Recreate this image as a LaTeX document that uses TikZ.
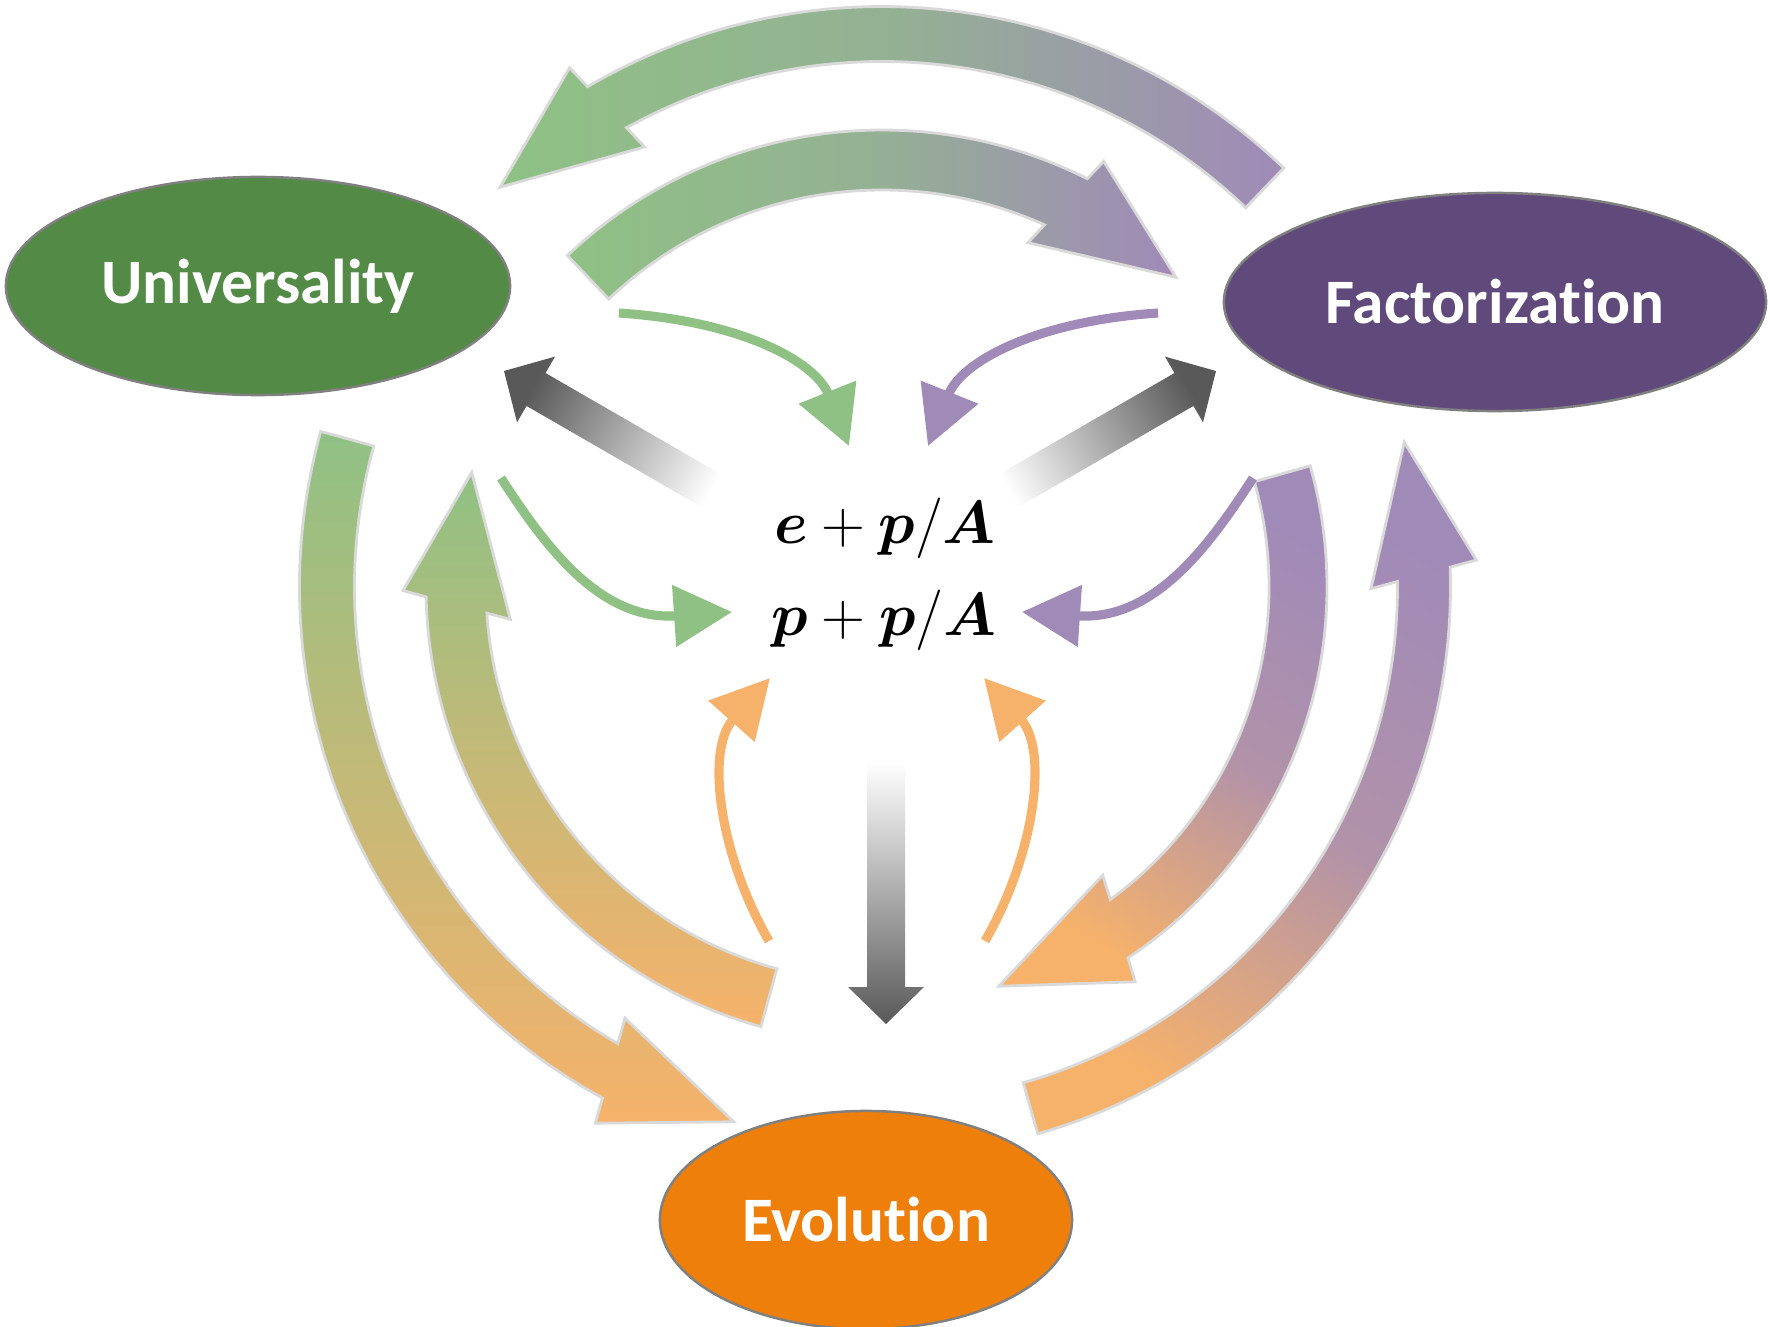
\documentclass[tikz,border=0pt]{standalone}
\usepackage{amsmath}
\usepackage{amssymb}
\usepackage{fontspec}
\usepackage{tikz}
\usetikzlibrary{arrows.meta}
\usetikzlibrary{shapes.geometric}

\newfontfamily\labelfont{Carlito}[Ligatures=NoCommon]

\definecolor{univgreen}{HTML}{538A45}
\definecolor{factpurple}{HTML}{604A7B}
\definecolor{evolorange}{HTML}{EF7F0B}
\definecolor{lightgreen}{HTML}{8FC184}
\definecolor{lightpurple}{HTML}{A08AB8}
\definecolor{lightorange}{HTML}{F6B26B}
\definecolor{rimgray}{HTML}{D9D9D9}
\definecolor{shaftgray}{HTML}{595959}

\begin{document}
\begin{tikzpicture}[x=0.01cm, y=0.01cm,
        bubble/.style={ellipse, draw=gray, line width=0.7pt, text=white, inner sep=0pt,
            minimum height=2.18cm, font=\labelfont\bfseries\fontsize{18}{21}\selectfont},
        band/.style={draw=rimgray, line width=0.8pt},
        slim/.style={line width=2.6pt, -{Triangle[length=16.5pt, width=17pt]}},
        formula/.style={anchor=base, font=\fontsize{17.5}{21}\selectfont}]
        \def\hw{53}
        \def\hl{134}
        \def\bigarc#1#2#3#4#5{%
            \pgfmathsetmacro\sgn{sign(#3-#4)}
            \pgfmathsetmacro\barbout{#4+\sgn*deg(\hl/(#1+\hw))}
            \pgfmathsetmacro\barbin{#4+\sgn*deg(\hl/(#1-\hw))}
            \pgfmathsetmacro\neckout{#4+\sgn*deg(\hl/(#1+#2))}
            \pgfmathsetmacro\neckin{#4+\sgn*deg(\hl/(#1-#2))}
            \draw[band, #5] ({#3}:{#1+#2}) arc[start angle=#3, end angle=\neckout, radius={#1+#2}]
                -- (\barbout:{#1+\hw}) -- ({#4}:{#1}) -- (\barbin:{#1-\hw})
                -- (\neckin:{#1-#2}) arc[start angle=\neckin, end angle=#3, radius={#1-#2}] -- cycle;}
        \def\greyarrow{(0,0) -- (-37,38) -- (-37,19) -- (-262,19) -- (-262,-19) -- (-37,-19) -- (-37,-38) -- cycle}

        \useasboundingbox (0,0) rectangle (1769,1326);

        \coordinate (hub) at (882,739);
        \coordinate (tipU) at (504,955);
        \coordinate (tipF) at (1216,955);
        \coordinate (tipE) at (886,302);

        % big circular arrows round the hub
        \begin{scope}[shift={(hub)}]
            \bigarc{553}{27.5}{46.2}{133.7}{left color=lightgreen, right color=lightpurple, middle color=lightgreen!70!lightpurple}
            \bigarc{427}{30}{133.5}{46.5}{left color=lightgreen, right color=lightpurple, middle color=lightgreen!70!lightpurple}
            \bigarc{555}{27.5}{164.5}{254.5}{top color=lightgreen, bottom color=lightorange}
            \bigarc{426}{30}{254.6}{164.4}{top color=lightgreen, bottom color=lightorange}
            \bigarc{416}{29}{15.8}{-73.7}{top color=lightpurple, bottom color=lightorange, middle color=lightpurple!80!lightorange, shading angle=-30}
            \bigarc{542}{26.5}{-74.1}{15.5}{top color=lightpurple, bottom color=lightorange, middle color=lightpurple!80!lightorange, shading angle=-30}
        \end{scope}

        \shade[top color=shaftgray, bottom color=white, shading angle=60, shift={(tipU)}, rotate=150] \greyarrow;
        \shade[top color=shaftgray, bottom color=white, shading angle=-60, shift={(tipF)}, rotate=30] \greyarrow;
        \shade[top color=white, bottom color=shaftgray, shift={(tipE)}, rotate=-90] \greyarrow;

        \draw[slim, lightgreen] (619,1013) .. controls (740,1005) and (815,965) .. (849,880);
        \draw[slim, lightpurple] (1158,1013) .. controls (1037,1005) and (962,965) .. (928,880);
        \draw[slim, lightgreen] (501,848) .. controls (545,780) and (600,705) .. (732,714);
        \draw[slim, lightpurple] (1253,848) .. controls (1209,780) and (1154,705) .. (1022,714);
        \draw[slim, lightorange] (769,385) .. controls (720,470) and (705,575) .. (770,648);
        \draw[slim, lightorange] (985,385) .. controls (1034,470) and (1049,575) .. (984,648);

        \node[formula] (ep) at (885,783) {$\boldsymbol{e}+\boldsymbol{p}/\boldsymbol{A}$};
        \node[formula] (pp) at (884,691) {$\boldsymbol{p}+\boldsymbol{p}/\boldsymbol{A}$};

        \node[bubble, fill=univgreen, minimum width=5.04cm] (univ) at (258,1040) {Universality};
        \node[bubble, fill=factpurple, minimum width=5.42cm] (fact) at (1495,1024) {Factorization};
        \node[bubble, fill=evolorange, minimum width=4.12cm] (evol) at (866,106) {Evolution};

    \end{tikzpicture}
\end{document}
